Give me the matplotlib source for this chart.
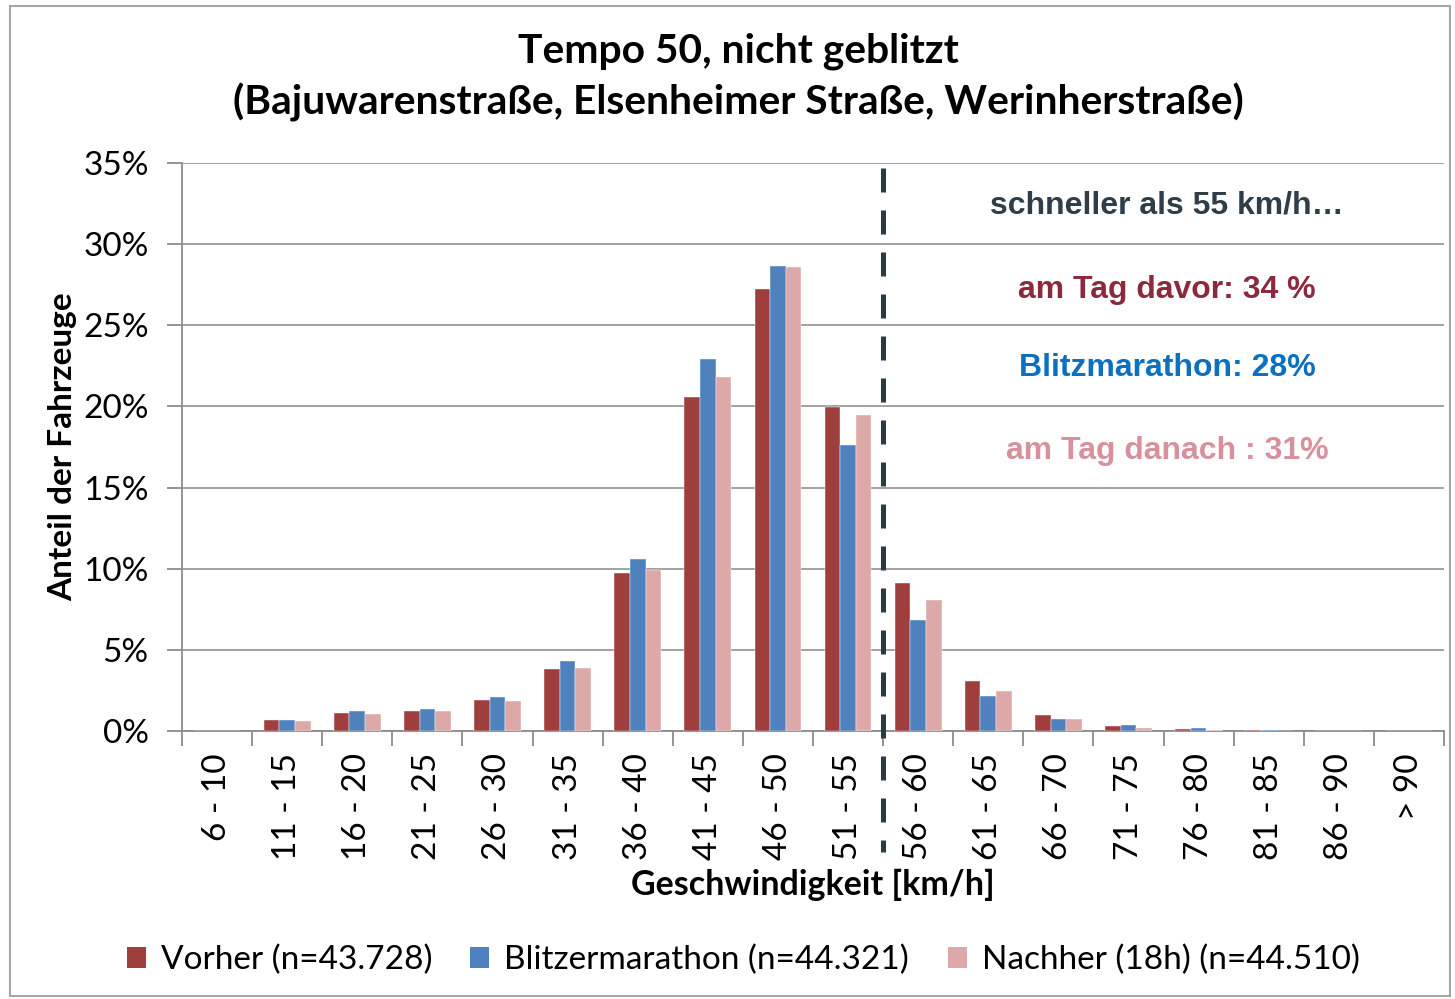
import matplotlib
matplotlib.use("Agg")
import matplotlib.pyplot as plt
from matplotlib.patches import Rectangle, Patch
from matplotlib.transforms import blended_transform_factory
import numpy as np

categories = ["6 - 10", "11 - 15", "16 - 20", "21 - 25", "26 - 30", "31 - 35",
              "36 - 40", "41 - 45", "46 - 50", "51 - 55", "56 - 60", "61 - 65",
              "66 - 70", "71 - 75", "76 - 80", "81 - 85", "86 - 90", "> 90"]
vorher = [0.00, 0.68, 1.09, 1.23, 1.89, 3.82, 9.73, 20.58, 27.23, 19.96,
          9.10, 3.08, 0.99, 0.31, 0.12, 0.05, 0.02, 0.01]
blitz = [0.02, 0.70, 1.21, 1.34, 2.11, 4.31, 10.60, 22.92, 28.65, 17.62,
         6.84, 2.16, 0.76, 0.37, 0.18, 0.05, 0.02, 0.01]
nachher = [0.00, 0.60, 1.05, 1.23, 1.83, 3.88, 9.92, 21.81, 28.62, 19.47,
           8.07, 2.48, 0.72, 0.20, 0.05, 0.02, 0.01, 0.01]
series_labels = ["Vorher (n=43.728)", "Blitzermarathon (n=44.321)", "Nachher (18h) (n=44.510)"]
colors = ["#9E3F3D", "#4F81BD", "#DCA9A8"]
yticks = [0, 5, 10, 15, 20, 25, 30, 35]

title = "Tempo 50, nicht geblitzt\n(Bajuwarenstraße, Elsenheimer Straße, Werinherstraße)"
notes = [("schneller als 55 km/h…", "#2E3D47"),
         ("am Tag davor: 34 %", "#8B2A3C"),
         ("Blitzmarathon: 28%", "#0B70C0"),
         ("am Tag danach : 31%", "#D8909C")]

FONT = "Lato"
W, H = 1455, 999
fig = plt.figure(figsize=(W / 100, H / 100), dpi=100)
fig.patches.append(Rectangle((10 / W, 1 - 996 / H), 1440 / W, 990 / H,
                             transform=fig.transFigure, fill=False,
                             edgecolor="#A6A6A6", linewidth=1.5))

ax = fig.add_axes([182 / W, 1 - 731 / H, (1444 - 182) / W, (731 - 163) / H])
x = np.arange(len(categories))
bw = 0.222
for i, (vals, c, lab) in enumerate(zip([vorher, blitz, nachher], colors, series_labels)):
    ax.bar(x + (i - 1) * bw, vals, width=bw, color=c, label=lab, zorder=3,
           edgecolor="white", linewidth=0.3)

ax.set_xlim(-0.5, len(categories) - 0.5)
ax.set_ylim(0, 35)
ax.set_yticks(yticks)
ax.set_yticklabels([f"{t}%" for t in yticks], fontfamily=FONT, fontsize=24)
ax.yaxis.grid(True, color="#9A9A9A", linewidth=1.3, zorder=0)
ax.set_axisbelow(True)
ax.set_xticks(x)
ax.set_xticklabels(categories, rotation=90, fontfamily=FONT, fontsize=24, va="top")
ax.set_xticks(np.arange(-0.5, len(categories)), minor=True)
ax.tick_params(axis="x", which="major", length=0, pad=16)
ax.tick_params(axis="x", which="minor", length=11, color="#8C8C8C", width=1.3)
ax.tick_params(axis="y", length=11, color="#8C8C8C", width=1.3, pad=13)
for s in ["top", "right"]:
    ax.spines[s].set_visible(False)
for s in ["left", "bottom"]:
    ax.spines[s].set_color("#8C8C8C")
    ax.spines[s].set_linewidth(1.3)

ax.set_xlabel("Geschwindigkeit [km/h]", fontfamily=FONT, fontweight="bold", fontsize=24.5, labelpad=6)
ax.set_ylabel("Anteil der Fahrzeuge", fontfamily=FONT, fontweight="bold", fontsize=24, labelpad=4)

fig.text(738 / W, 1 - 77 / H, title, ha="center", va="center",
         fontfamily=FONT, fontweight="bold", fontsize=29.3, linespacing=1.4)

trans = blended_transform_factory(ax.transData, ax.transAxes)
ax.plot([9.5, 9.5], [0.991, -0.213], transform=trans, color="#2C3A41", linewidth=3.6,
        dashes=(4.8, 3.6), clip_on=False, zorder=5)

ys = [205, 290, 368, 451]
for (txt, c), yp in zip(notes, ys):
    fig.text(1167 / W, 1 - yp / H, txt, ha="center", va="center", color=c,
             fontfamily="Liberation Sans", fontweight="bold", fontsize=23)

handles = [Patch(facecolor=c, edgecolor="none") for c in colors]
fig.legend(handles, series_labels, loc="center", bbox_to_anchor=(743 / W, 1 - 960 / H),
           ncol=3, frameon=False, prop={"family": FONT, "size": 24},
           handlelength=0.57, handleheight=0.57, handletextpad=0.45, columnspacing=1.15)

fig.savefig("out.png", dpi=100)
